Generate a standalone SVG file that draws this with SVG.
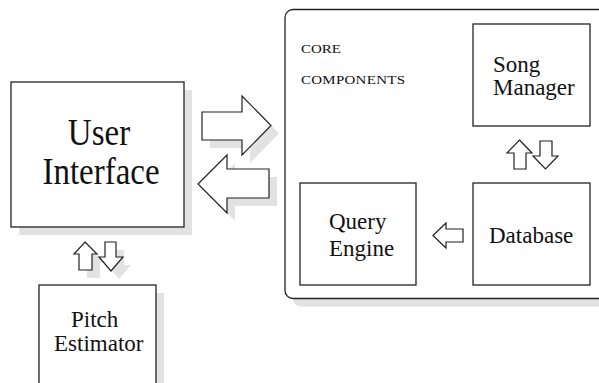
<svg xmlns="http://www.w3.org/2000/svg" width="599" height="383" viewBox="0 0 599 383">
  <style>
    .box { fill: #ffffff; stroke: #222222; stroke-width: 1.3; }
    .shadow { fill: #e2e2e2; stroke: none; }
    .arrow { fill: #ffffff; stroke: #222222; stroke-width: 1.2; stroke-linejoin: miter; }
    .label { font-family: "Liberation Serif", "Times New Roman", serif; fill: #111111; }
    .big { font-size: 33px; }
    .mid { font-size: 23px; }
    .small { font-size: 15px; }
  </style>
  <defs>
    <polygon id="arrowRight" points="202,112 242,112 242,96 271,125.5 242,155 242,140 202,140"/>
    <polygon id="arrowLeft" points="198,184 227,155 227,169 269,169 269,198 227,198 227,213"/>
    <polygon id="pitchUp" points="85,242 97,254 92,254 92,270 79,270 79,254 74,254"/>
    <polygon id="pitchDown" points="105,242 116,242 116,257 123,257 111,271 99,257 105,257"/>
  </defs>

  <rect width="599" height="383" fill="#ffffff"/>

  <!-- core components container -->
  <g id="core">
    <rect class="shadow" x="293" y="17.5" width="340" height="289" rx="8"/>
    <rect class="box" x="285" y="9.5" width="340" height="289" rx="8"/>
    <text class="label small" transform="translate(301,53) scale(1,0.86)">CORE</text>
    <text class="label small" transform="translate(301,84) scale(1,0.86)" textLength="104" lengthAdjust="spacing">COMPONENTS</text>
  </g>

  <g id="user-interface">
    <rect class="shadow" x="19" y="90" width="173" height="145"/>
    <rect class="box" x="11" y="82" width="173" height="145"/>
    <text class="label big" text-anchor="middle" transform="translate(99,145) scale(1,1.18)">User</text>
    <text class="label big" text-anchor="middle" transform="translate(101,184) scale(1,1.18)">Interface</text>
  </g>

  <g id="pitch-estimator">
    <rect class="shadow" x="47" y="293" width="117" height="120"/>
    <rect class="box" x="39" y="285" width="117" height="120"/>
    <text class="label mid" x="71" y="327">Pitch</text>
    <text class="label mid" x="54" y="351">Estimator</text>
  </g>

  <g id="song-manager">
    <rect class="box" x="473" y="24" width="117" height="102"/>
    <text class="label mid" x="493" y="72">Song</text>
    <text class="label mid" x="493" y="95">Manager</text>
  </g>

  <g id="query-engine">
    <rect class="box" x="300" y="183" width="116" height="102"/>
    <text class="label mid" x="329" y="229">Query</text>
    <text class="label mid" x="329" y="256">Engine</text>
  </g>

  <g id="database">
    <rect class="box" x="473" y="183" width="117" height="102"/>
    <text class="label mid" x="489" y="243">Database</text>
  </g>

  <!-- block arrows between components -->
  <g id="connectors">
    <use href="#arrowRight" class="shadow" transform="translate(8,8)"/>
    <use href="#arrowRight" class="arrow"/>
    <use href="#arrowLeft" class="shadow" transform="translate(8,8)"/>
    <use href="#arrowLeft" class="arrow"/>

    <use href="#pitchUp" class="shadow" transform="translate(8,8)"/>
    <use href="#pitchDown" class="shadow" transform="translate(8,8)"/>
    <use href="#pitchUp" class="arrow"/>
    <use href="#pitchDown" class="arrow"/>

    <polygon class="arrow" points="519.5,140 532,153 526,153 526,169 514,169 514,153 507,153"/>
    <polygon class="arrow" points="540,141 552,141 552,156 558,156 545.5,169 533,156 540,156"/>

    <polygon class="arrow" points="433,235.5 446,223 446,229 463,229 463,242 446,242 446,248"/>
  </g>
</svg>
